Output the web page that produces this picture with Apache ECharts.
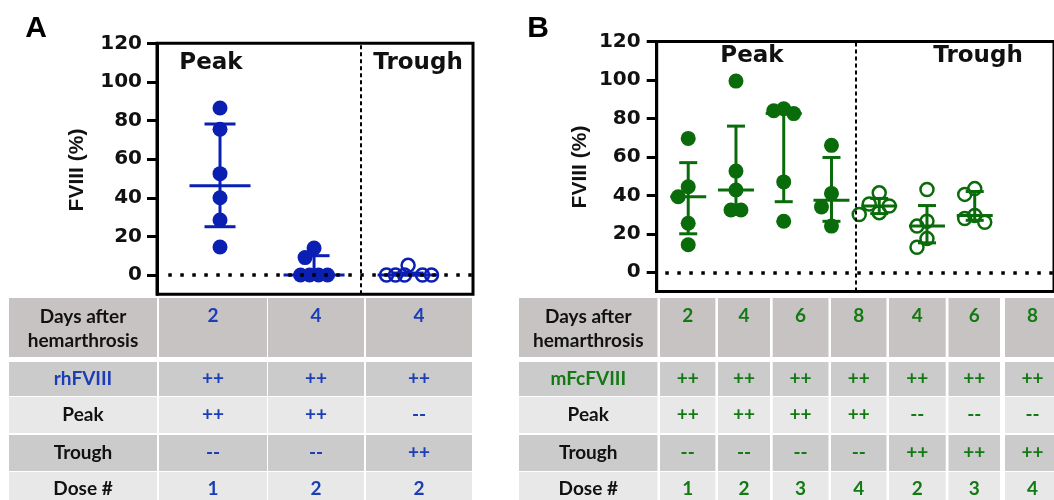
<!DOCTYPE html>
<html>
<head>
<meta charset="utf-8">
<script src="https://cdn.jsdelivr.net/npm/echarts@6/dist/echarts.min.js"></script>
<style>
  html, body { margin: 0; background: #fff; }
  #chart { width: 1054px; height: 500px; }
</style>
</head>
<body>
<div id="chart"></div>
<script>
// y axis ticks (both panels)
const yTicks = [0, 20, 40, 60, 80, 100, 120];

// panel A - rhFVIII, one array of FVIII (%) per column
const fviiiA = [
  [86.5, 75.5, 52.5, 40, 28.5, 14.5],
  [14, 9, 0, 0, 0, 0],
  [5, 0, 0, 0, 0, 0]
];
const troughA = [false, false, true];
const medianA = [46.2, 0, 0];
const q1A = [25, 0, 0];
const q3A = [78.2, 10, 1];

// panel B - mFcFVIII
const fviiiB = [
  [69.6, 44.5, 39.3, 25.5, 14.3],
  [99.4, 52.6, 42.8, 32.4, 32.4],
  [85, 84, 82.5, 47, 26.5],
  [66, 41, 34, 24],
  [41.3, 35.5, 34.5, 31, 30],
  [43, 26.5, 24, 17.5, 13],
  [43.5, 40.5, 29.5, 28, 26]
];
const troughB = [false, false, false, false, true, true, true];
const medianB = [39.3, 42.8, 82.5, 37.5, 34.5, 24, 29.5];
const q1B = [20, 32.4, 36.7, 26.5, 30.5, 15.3, 27];
const q3B = [57, 76, 84.5, 59.7, 38.4, 34.7, 42];

// tables
const rowLabels = ['Days after\nhemarthrosis', 'Peak', 'Trough', 'Dose #'];
const daysA = ['2', '4', '4'];
const drugA = ['++', '++', '++'];
const peakA = ['++', '++', '--'];
const troughRowA = ['--', '--', '++'];
const doseA = ['1', '2', '2'];
const daysB = ['2', '4', '6', '8', '4', '6', '8'];
const drugB = ['++', '++', '++', '++', '++', '++', '++'];
const peakB = ['++', '++', '++', '++', '--', '--', '--'];
const troughRowB = ['--', '--', '--', '--', '++', '++', '++'];
const doseB = ['1', '2', '3', '4', '2', '3', '4'];

const blue = '#0b1fb3', green = '#0a6b0a';
const blueText = '#1b3db5', greenText = '#137a13';

const gridA = { left: 157, top: 43.3, width: 316, height: 251 };
const gridB = { left: 656.7, top: 41.5, width: 463, height: 250 };

// spread points that sit close in y sideways (beeswarm style)
function dodge(vals, ppu, dY, step) {
  const order = vals.map((v, i) => i).sort((a, b) => vals[b] - vals[a]);
  const placed = [];
  const off = new Array(vals.length).fill(0);
  order.forEach(i => {
    const y = vals[i] * ppu;
    for (let k = 0; k < 40; k++) {
      const dx = (k % 2 ? -1 : 1) * Math.ceil(k / 2) * step;
      const clash = placed.some(p => Math.abs(p.x - dx) < step - 0.01 && Math.abs(p.y - y) < dY);
      if (!clash) { off[i] = dx; placed.push({ x: dx, y }); break; }
    }
  });
  // centre groups of equal values
  const groups = {};
  vals.forEach((v, i) => { (groups[v] = groups[v] || []).push(i); });
  Object.values(groups).forEach(g => {
    if (g.length < 2) return;
    const mean = g.reduce((s, i) => s + off[i], 0) / g.length;
    g.forEach(i => { off[i] -= mean; });
  });
  return off;
}

function pointsData(cols, trough, ppu, dY, step, col) {
  const out = [];
  cols.forEach((vals, c) => {
    const offs = dodge(vals, ppu, dY, step);
    vals.forEach((v, i) => out.push({
      value: [c + 1, v],
      symbolOffset: [offs[i], 0],
      symbolSize: trough[c] ? 13 : 15,
      itemStyle: trough[c]
        ? { color: 'rgba(0,0,0,0)', borderColor: col, borderWidth: 2.5, opacity: 1 }
        : { color: col, opacity: 1 }
    }));
  });
  return out;
}

function barRenderer(medW, capW) {
  return function (params, api) {
    const x = api.value(0);
    const pm = api.coord([x, api.value(1)]);
    const p1 = api.coord([x, api.value(2)]);
    const p3 = api.coord([x, api.value(3)]);
    const style = { stroke: api.visual('color'), lineWidth: 3 };
    const hline = (p, w) => ({ type: 'line', shape: { x1: p[0] - w / 2, y1: p[1], x2: p[0] + w / 2, y2: p[1] }, style });
    return {
      type: 'group',
      children: [
        { type: 'line', shape: { x1: p1[0], y1: p1[1], x2: p3[0], y2: p3[1] }, style },
        hline(p1, capW), hline(p3, capW), hline(pm, medW)
      ]
    };
  };
}

function yAxisCfg(gridIndex, margin) {
  return {
    type: 'value', gridIndex, min: -10, max: 120,
    axisLine: { show: true, lineStyle: { color: '#000', width: 3 } },
    axisTick: { show: true, length: 10, customValues: yTicks, lineStyle: { color: '#000', width: 3 } },
    axisLabel: {
      margin, customValues: yTicks, color: '#111',
      fontFamily: 'DejaVu Sans', fontWeight: 'bold', fontSize: 20
    },
    splitLine: { show: false }
  };
}

function guideLines(x0, x1, xDiv) {
  return {
    silent: true, symbol: 'none', label: { show: false },
    data: [
      [{ coord: [x0, 0], lineStyle: { color: '#000', width: 3.5, type: [3.5, 8.5] } }, { coord: [x1, 0] }],
      [{ coord: [xDiv, -10], lineStyle: { color: '#000', width: 2, type: [4, 3] } }, { coord: [xDiv, 120] }]
    ]
  };
}

function txt(x, y, text, font, fill, extra) {
  return Object.assign({
    type: 'text', x, y, silent: true,
    style: Object.assign({ text, fill, align: 'center', verticalAlign: 'middle' }, font)
  }, extra || {});
}

const axisFont = { fontFamily: 'DejaVu Sans', fontWeight: 'bold', fontSize: 23 };
const nameFont = { fontFamily: 'Liberation Sans', fontWeight: 'bold', fontSize: 21 };
const letterFont = { fontFamily: 'Liberation Sans', fontWeight: 'bold', fontSize: 30 };
const cellFont = { fontFamily: 'Lato', fontWeight: 'bold', fontSize: 19 };

function table(colEdges, drugName, drugColor, valColor, rows) {
  const rowEdges = [[298, 357], [362, 396], [397, 433], [435, 471], [472, 506]];
  const fills = ['#c8c3c3', '#cbcbcb', '#e8e8e8', '#cbcbcb', '#e8e8e8'];
  const labels = [rowLabels[0], drugName, rowLabels[1], rowLabels[2], rowLabels[3]];
  const els = [];
  rowEdges.forEach((r, ri) => {
    colEdges.forEach((c, ci) => {
      els.push({ type: 'rect', silent: true, shape: { x: c[0], y: r[0], width: c[1] - c[0], height: r[1] - r[0] }, style: { fill: fills[ri] } });
      const cx = (c[0] + c[1]) / 2;
      if (ci === 0) {
        const cy = ri === 0 ? 328.7 : (r[0] + r[1]) / 2;
        els.push(txt(cx, cy, labels[ri], Object.assign({ lineHeight: 24 }, cellFont), ri === 1 ? drugColor : '#111'));
      } else {
        const cy = ri === 0 ? 316 : (r[0] + r[1]) / 2;
        els.push(txt(cx, cy, rows[ri][ci - 1], cellFont, valColor));
      }
    });
  });
  return els;
}

const colsA = [[9, 157], [159, 267], [268, 364], [366, 472]];
const colsB = [[519, 657.5], [660, 715.4], [718, 770], [772.7, 828.5], [831, 886.5], [889, 945.7], [948.5, 1000], [1005, 1060]];

const graphics = [].concat(
  table(colsA, 'rhFVIII', blueText, blueText, [daysA, drugA, peakA, troughRowA, doseA]),
  table(colsB, 'mFcFVIII', greenText, greenText, [daysB, drugB, peakB, troughRowB, doseB]),
  [
    txt(36, 29, 'A', letterFont, '#000'),
    txt(538, 29, 'B', letterFont, '#000'),
    txt(211, 63, 'Peak', axisFont, '#111'),
    txt(418, 63, 'Trough', axisFont, '#111'),
    txt(752, 56, 'Peak', axisFont, '#111'),
    txt(978, 56, 'Trough', axisFont, '#111'),
    txt(77, 170, 'FVIII (%)', nameFont, '#111', { rotation: Math.PI / 2 }),
    txt(580, 167, 'FVIII (%)', nameFont, '#111', { rotation: Math.PI / 2 })
  ]
);

const chart = echarts.init(document.getElementById('chart'));
chart.setOption({
  animation: false,
  backgroundColor: '#fff',
  grid: [
    Object.assign({ show: true, borderColor: '#000', borderWidth: 3, backgroundColor: 'transparent' }, gridA),
    Object.assign({ show: true, borderColor: '#000', borderWidth: 3, backgroundColor: 'transparent' }, gridB)
  ],
  xAxis: [
    { type: 'value', gridIndex: 0, min: 0.33, max: 3.69, show: false },
    { type: 'value', gridIndex: 1, min: 0.34, max: 8.66, show: false }
  ],
  yAxis: [yAxisCfg(0, 15), yAxisCfg(1, 16)],
  series: [
    {
      type: 'scatter', xAxisIndex: 0, yAxisIndex: 0, z: 3,
      data: pointsData(fviiiA, troughA, 251 / 130, 10, 9, blue),
      markLine: guideLines(0.45, 3.69, 2.5)
    },
    {
      type: 'custom', xAxisIndex: 0, yAxisIndex: 0, z: 4,
      itemStyle: { color: blue },
      renderItem: barRenderer(61, 31),
      encode: { x: 0, y: [1, 2, 3] },
      data: medianA.map((m, i) => [i + 1, m, q1A[i], q3A[i]])
    },
    {
      type: 'scatter', xAxisIndex: 1, yAxisIndex: 1, z: 3,
      data: pointsData(fviiiB, troughB, 250 / 130, 14, 10, green),
      markLine: guideLines(0.52, 8.66, 4.5)
    },
    {
      type: 'custom', xAxisIndex: 1, yAxisIndex: 1, z: 4,
      itemStyle: { color: green },
      renderItem: barRenderer(36, 18),
      encode: { x: 0, y: [1, 2, 3] },
      data: medianB.map((m, i) => [i + 1, m, q1B[i], q3B[i]])
    }
  ],
  graphic: graphics
});
</script>
</body>
</html>
